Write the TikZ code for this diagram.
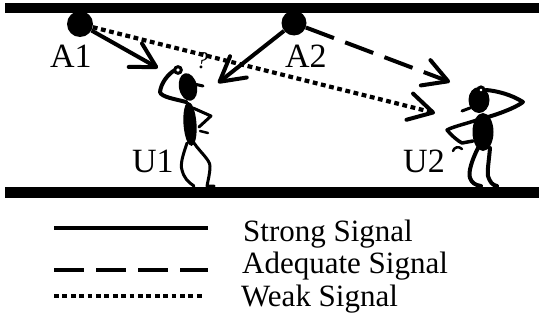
\documentclass[tikz,border=0pt]{standalone}
\usepackage{fontspec}
\setmainfont{Liberation Serif}
\usetikzlibrary{arrows.meta}

\tikzset{
  bar/.style={fill=black},
  station/.style={circle, fill=black, inner sep=0pt, minimum size=#1},
  barb/.style={-{Straight Barb[length=24pt, width=27pt, round, line width=4pt]}},
  strongsig/.style={line width=4pt},
  adequatesig/.style={line width=4pt, dash pattern=on 30pt off 12pt},
  weaksig/.style={line width=4.2pt, dash pattern=on 4.8pt off 3.6pt},
  tag/.style={anchor=base west, inner sep=0pt, font=\fontsize{34}{36}\selectfont},
  legendtext/.style={anchor=base west, inner sep=0pt, font=\fontsize{31}{34}\selectfont},
  limb/.style={line width=3pt, line cap=round, line join=round},
}

\begin{document}
\begin{tikzpicture}[x=1pt, y=-1pt]
  \useasboundingbox (0,0) rectangle (539,324);

  % corridor walls
  \fill[bar] (5,3) rectangle (539,13);
  \fill[bar] (5,187) rectangle (539,198);

  % access points
  \node[station=26pt] (A1) at (80,24) {};
  \node[station=25pt] (A2) at (294,23) {};
  \node[tag] (lA1) at (50,67) {A1};
  \node[tag] (lA2) at (285,67) {A2};

  % arrow targets near the users
  \coordinate (t1) at (158,68);
  \coordinate (t2) at (218,83);
  \coordinate (t3) at (450,82);
  \coordinate (t4) at (435,113);

  % signals
  \draw[weaksig, barb] (A1) -- (t4);
  \draw[strongsig, barb] (A1) -- (t1);
  \draw[strongsig, barb] (A2) -- (t2);
  \draw[adequatesig, barb] (A2) -- (t3);

  % user 1
  \node[anchor=base, inner sep=0pt, font=\fontsize{24}{24}\selectfont\itshape] (q) at (202,68) {?};
  \draw[limb, line width=4pt] (186,102) .. controls (175,99) and (161,97) .. (160,92)
        .. controls (161,83) and (168,74) .. (175,70);
  \fill[rotate around={12:(188,87)}] (188,87) ellipse [x radius=9, y radius=14];
  \draw[line width=3pt, fill=white] (178,70) circle [radius=3.3];
  \draw[line width=3pt, line cap=round] (194,84) -- (203,86);
  \fill[rotate around={4:(190,124)}] (190,124) ellipse [x radius=6.5, y radius=22];
  \draw[limb, line width=3pt] (193,108) -- (211,116) -- (199,127);
  \draw[limb, line width=2.5pt] (200,131) -- (208,133);
  \draw[limb, line width=3pt] (187,143) .. controls (183,155) and (180,164) .. (182,170)
        .. controls (184,178) and (188,182) .. (194,186);
  \draw[limb, line width=3pt] (194,143) .. controls (200,152) and (210,160) .. (210,166)
        .. controls (210,174) and (208,180) .. (207,186) -- (214,186);
  \node[tag] (lU1) at (132,172) {U1};

  % user 2
  \draw[limb, line width=4pt] (488,117) .. controls (505,112) and (518,106) .. (523,102)
        .. controls (512,95) and (498,91) .. (486,90);
  \fill (479,100) ellipse [x radius=10.5, y radius=13];
  \draw[line width=3pt, fill=white] (481,90) circle [radius=3];
  \draw[line width=3pt, line cap=round] (470,108) -- (462,111);
  \fill (483,132) ellipse [x radius=10.5, y radius=19];
  \draw[limb, line width=3.5pt] (477,120) .. controls (465,124) and (452,127) .. (447,130)
        .. controls (452,136) and (458,141) .. (462,143) -- (473,141);
  \draw[limb, line width=2.5pt] (453,151) .. controls (454,147) and (459,146) .. (462,149);
  \draw[limb, line width=4pt] (478,148) .. controls (472,160) and (468,172) .. (470,178)
        .. controls (472,183) and (475,185) .. (481,186);
  \draw[limb, line width=4pt] (490,148) .. controls (489,160) and (487,172) .. (488,176)
        .. controls (490,182) and (492,185) .. (497,186);
  \node[tag] (lU2) at (403,172) {U2};

  % legend
  \coordinate (s1) at (54,228);  \coordinate (s2) at (208,228);
  \coordinate (d1) at (54,270);  \coordinate (d2) at (208,270);
  \coordinate (w1) at (54,296);  \coordinate (w2) at (205,296);
  \draw[strongsig] (s1) -- (s2);
  \draw[adequatesig] (d1) -- (d2);
  \draw[weaksig] (w1) -- (w2);
  \node[legendtext] (ls) at (243,241) {Strong Signal};
  \node[legendtext] (la) at (242,273.5) {Adequate Signal};
  \node[legendtext] (lw) at (241,306) {Weak Signal};
\end{tikzpicture}
\end{document}
